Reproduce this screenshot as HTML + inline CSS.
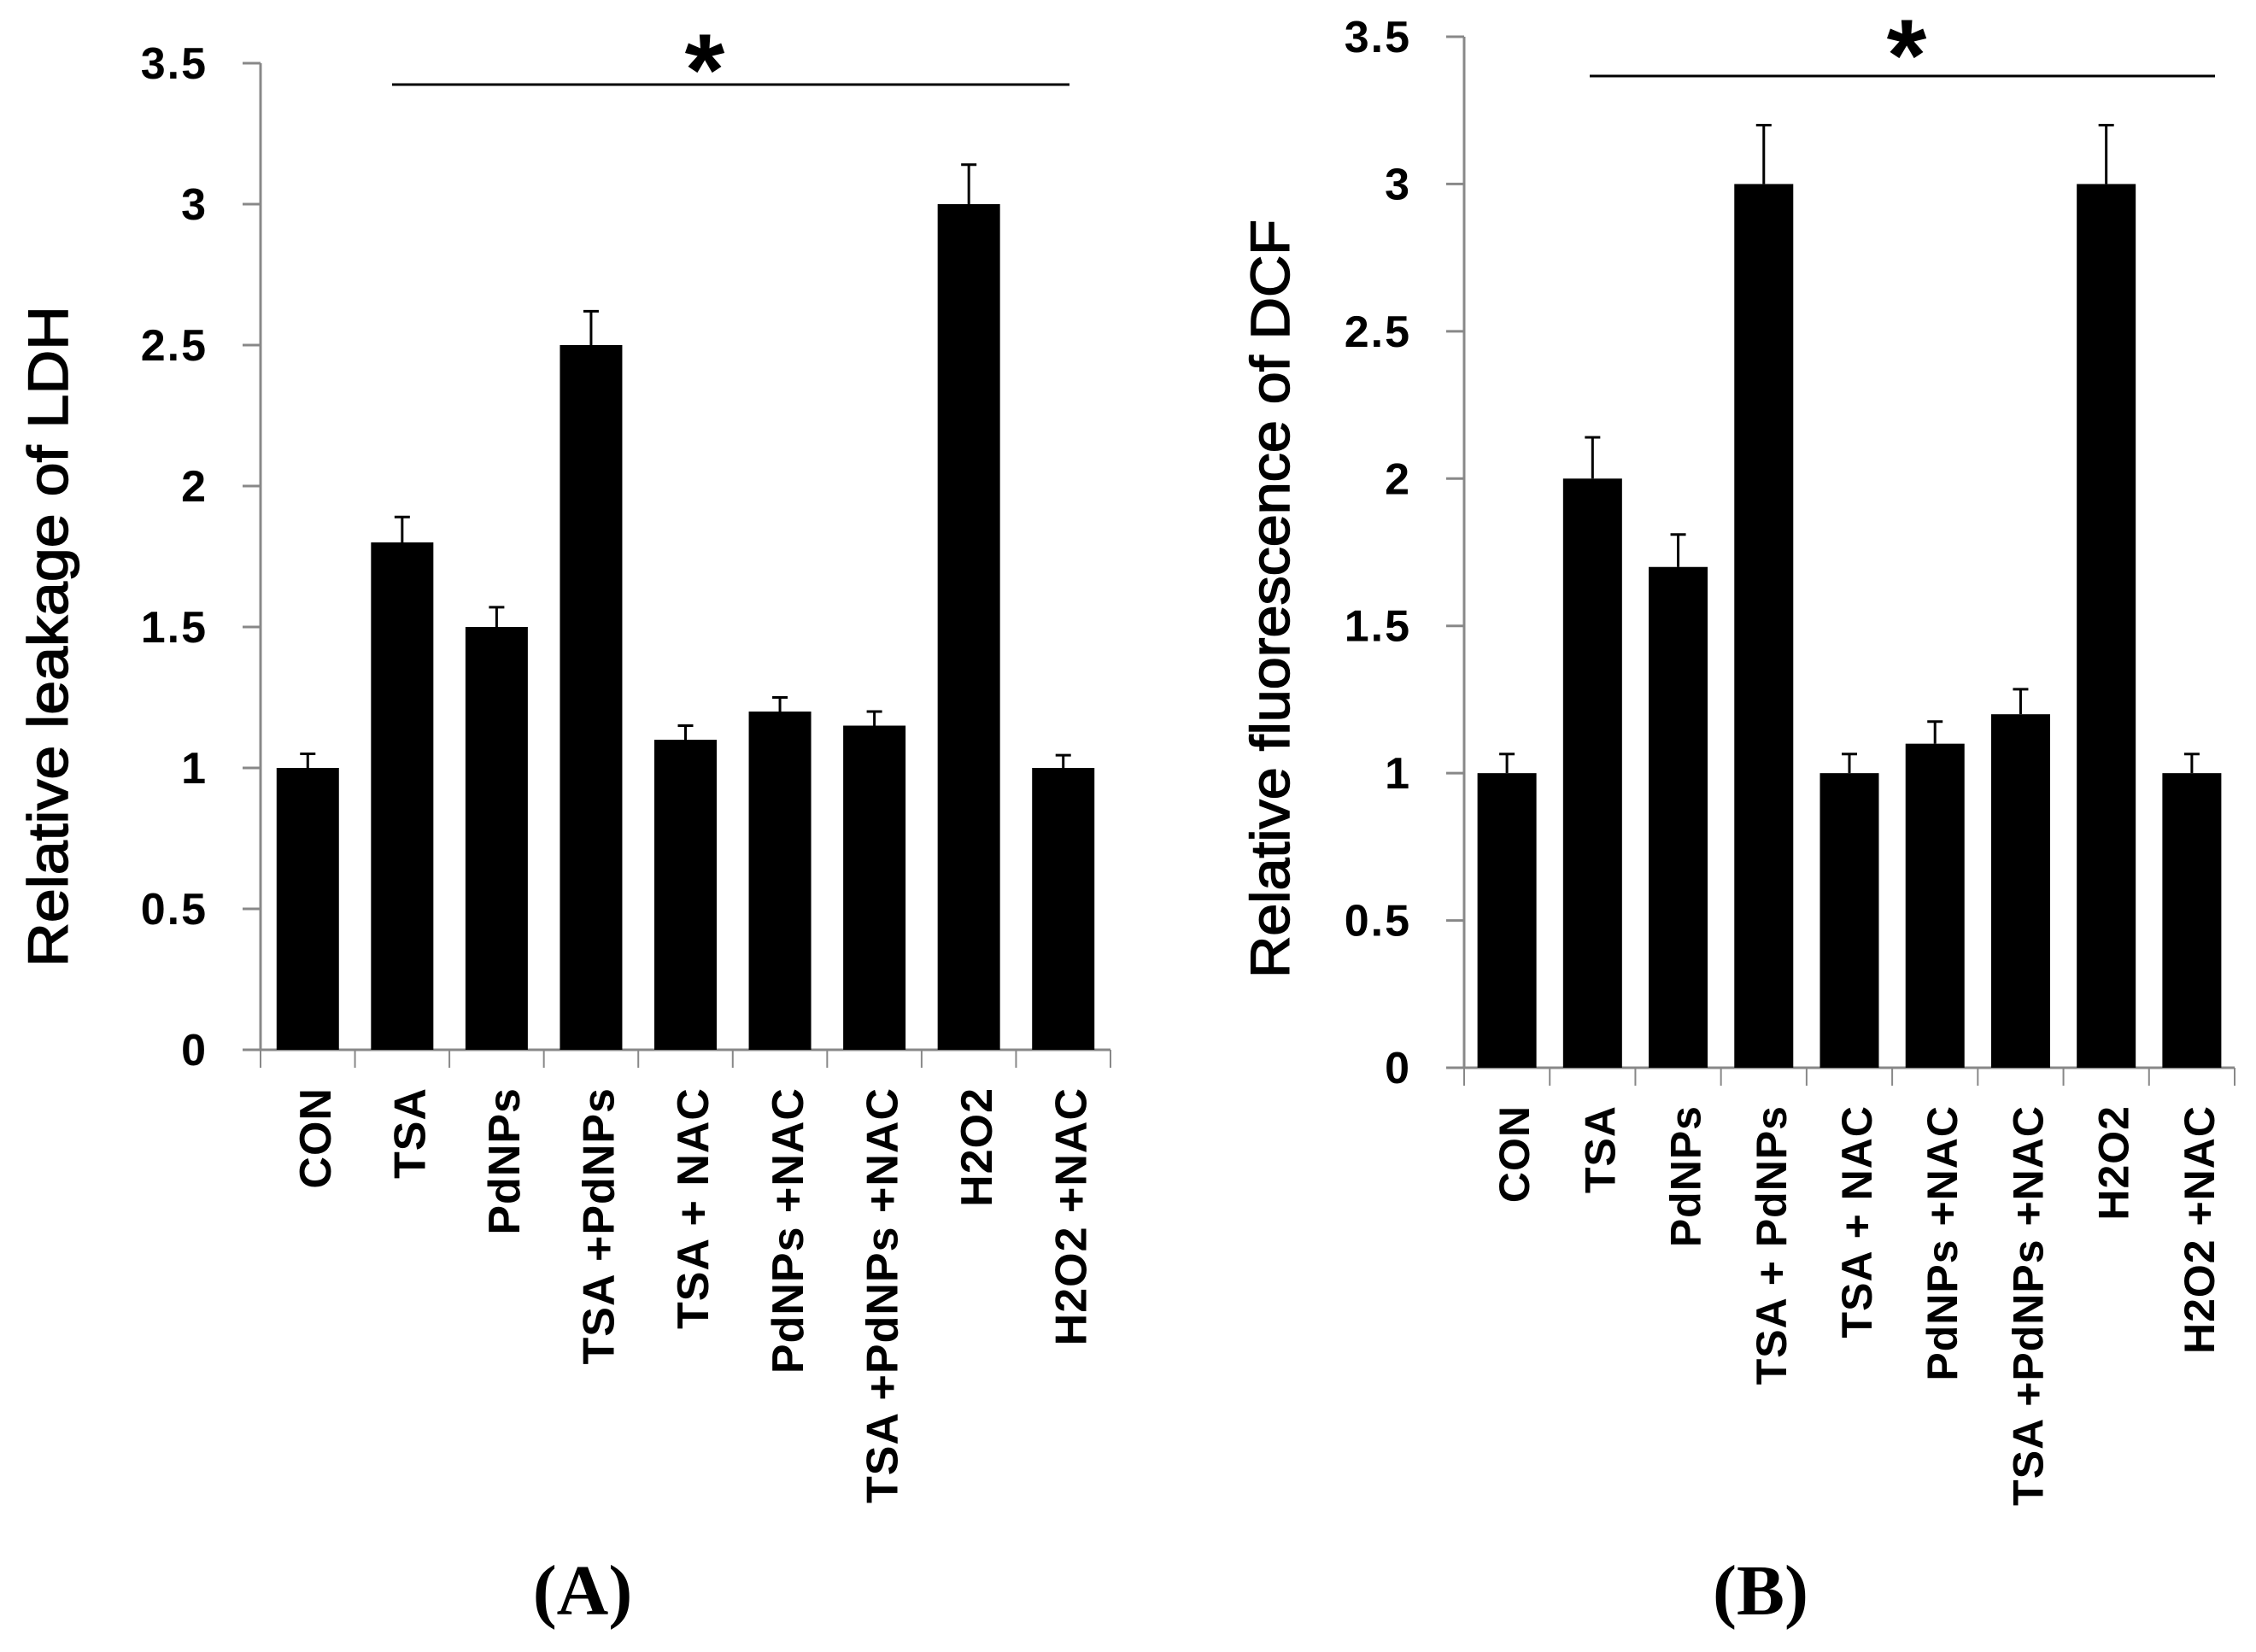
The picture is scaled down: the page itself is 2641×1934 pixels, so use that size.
<!DOCTYPE html>
<html><head><meta charset="utf-8"><style>
html,body{margin:0;padding:0;background:#fff;}
svg{display:block;}
</style></head><body>
<svg id="fig" xmlns="http://www.w3.org/2000/svg" width="2641" height="1934" viewBox="0 0 2641 1934">
<rect x="0" y="0" width="2641" height="1934" fill="#fff"/>
<text x="682" y="1890" font-family="Liberation Serif, serif" font-weight="bold" font-size="84" text-anchor="middle">(A)</text>
<text x="2061" y="1890" font-family="Liberation Serif, serif" font-weight="bold" font-size="84" text-anchor="middle">(B)</text>
</svg>
<script>
const categoriesA = ["CON","TSA","PdNPs","TSA +PdNPs","TSA + NAC","PdNPs +NAC","TSA +PdNPs +NAC","H2O2","H2O2 +NAC"];
const valuesA = [1.0,1.8,1.5,2.5,1.1,1.2,1.15,3.0,1.0];
const errorsA = [0.05,0.09,0.07,0.12,0.05,0.05,0.05,0.14,0.045];
const categoriesB = ["CON","TSA","PdNPs","TSA + PdNPs","TSA + NAC","PdNPs +NAC","TSA +PdNPs +NAC","H2O2","H2O2 +NAC"];
const valuesB = [1.0,2.0,1.7,3.0,1.0,1.1,1.2,3.0,1.0];
const errorsB = [0.065,0.14,0.11,0.2,0.065,0.075,0.085,0.2,0.065];
const yTicks = ["0","0.5","1","1.5","2","2.5","3","3.5"];

const NS = "http://www.w3.org/2000/svg";
const svg = document.getElementById("fig");
function mk(tag, attrs, parent){
  const e = document.createElementNS(NS, tag);
  for (const k in attrs) e.setAttribute(k, attrs[k]);
  (parent||svg).appendChild(e);
  return e;
}

function drawPanel(p){
  const g = mk("g", {});
  
  
  const n = p.cats.length;
  const cw = (p.x1 - p.x0) / n;
  const yS = v => p.y0 - v * (p.y0 - p.yTop) / 3.5;
  const xC = i => p.x0 + cw * (i + 0.5);
  const ya = mk("line", {x1:p.x0, y1:p.yTop, x2:p.x0, y2:p.y0, stroke:"#888", "stroke-width":3}, g);
  
  
  const xa = mk("line", {x1:p.x0, y1:p.y0, x2:p.x1, y2:p.y0, stroke:"#888", "stroke-width":3}, g);
  
  
  yTicks.forEach(t => {
    const v = parseFloat(t), y = yS(v);
    mk("line", {x1:p.x0-21, y1:y, x2:p.x0, y2:y, stroke:"#888", "stroke-width":3}, g);
    const tl = mk("text", {x:p.x0-62, y:y+18, "text-anchor":"end", "font-family":"Liberation Sans, sans-serif", "font-weight":"bold", "font-size":52, "letter-spacing":2}, g);
    tl.textContent = t;
    
    
  });
  for (let i = 0; i <= n; i++) {
    const x = p.x0 + cw * i;
    mk("line", {x1:x, y1:p.y0, x2:x, y2:p.y0+21, stroke:"#888", "stroke-width":2}, g);
  }
  p.cats.forEach((c, i) => {
    const v = p.vals[i], e = p.errs[i];
    const bar = mk("rect", {x:xC(i)-p.bw/2, y:yS(v), width:p.bw, height:yS(0)-yS(v), fill:"#000"}, g);
    
    
    const eb = mk("path", {d:`M${xC(i)} ${yS(v)} V${yS(v+e)} M${xC(i)-9} ${yS(v+e)} H${xC(i)+9}`, stroke:"#000", "stroke-width":3, fill:"none"}, g);
    
    
    const lx = xC(i) + 8, ly = p.labTop;
    const lab = mk("text", {x:lx, y:ly, transform:`rotate(-90 ${lx} ${ly})`, "text-anchor":"end", "font-family":"Liberation Sans, sans-serif", "font-weight":"bold", "font-size":p.lfs, "letter-spacing":1, dy:"0.36em"}, g);
    lab.textContent = c;
    
    
  });
  const sl = mk("line", {x1:p.sx0, y1:p.sy, x2:p.sx1, y2:p.sy, stroke:"#000", "stroke-width":3}, g);
  
  
  const st = mk("text", {x:p.starX, y:p.starY, "text-anchor":"middle", "font-family":"Liberation Sans, sans-serif", "font-weight":"bold", "font-size":120}, g);
  st.textContent = "*";
  
  
  const yt = mk("text", {x:p.tx, y:p.ty, transform:`rotate(-90 ${p.tx} ${p.ty})`, "text-anchor":"middle", "font-family":"Liberation Sans, sans-serif", "font-size":p.tfs, textLength:p.tl, lengthAdjust:"spacingAndGlyphs", stroke:"#000", "stroke-width":1.5, dy:"0.36em"}, g);
  yt.textContent = p.title;
  
  
}

drawPanel({name:"chart-a", cats:categoriesA, vals:valuesA, errs:errorsA, x0:305, x1:1300, y0:1229, yTop:74, bw:73,
  labTop:1273, lfs:52, sx0:459, sx1:1252, sy:99, starX:825, starY:123, tx:55, ty:745, tfs:66, tl:774, title:"Relative leakage of LDH"});
drawPanel({name:"chart-b", cats:categoriesB, vals:valuesB, errs:errorsB, x0:1714, x1:2616, y0:1250, yTop:43, bw:69,
  labTop:1294, lfs:50, sx0:1861, sx1:2593, sy:89, starX:2232, starY:106, tx:1486, ty:701, tfs:64, tl:888, title:"Relative fluorescence of DCF"});
</script>
</body></html>
